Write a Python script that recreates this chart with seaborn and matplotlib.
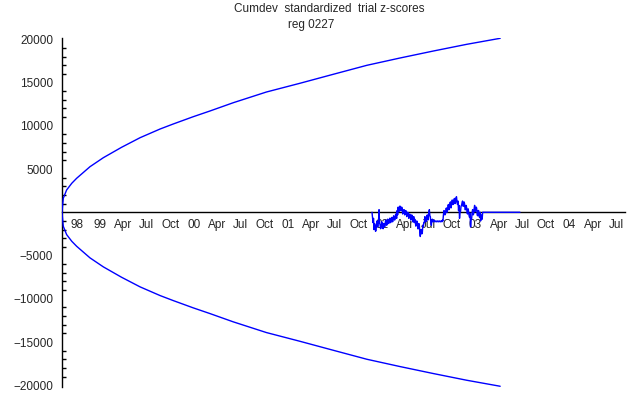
import matplotlib

matplotlib.use("Agg")

import matplotlib.pyplot as plt
import matplotlib.ticker as mticker
import pandas as pd
import seaborn as sns

sns.set_style("white")
plt.rcParams["font.family"] = ["Liberation Sans", "DejaVu Sans"]

# --- datos -----------------------------------------------------------------
start_date = "1998-08-05"
end_date = "2004-08-05"

# envolvente (dias desde start_date, valor superior); la inferior es simetrica
envelope_days = [0, 2, 5, 18, 38, 57, 109, 161, 232, 304, 382, 433, 511, 576,
                 667, 796, 926, 1056, 1187, 1316, 1446, 1576, 1706]
envelope_upper = [0, 700, 1618, 2578, 3352, 3930, 5271, 6312, 7514, 8624, 9630,
                  10207, 11051, 11710, 12670, 13907, 14912, 15953, 16993,
                  17837, 18646, 19421, 20114]

# cumdev de la serie real (dos lecturas por columna de pixel)
walk_start = "2001-11-24"
walk_step = "47h"
walk_values = [
    0, -600, -1200, -700, -2000, -1300, -1500, -2200, -2100, -1400,
    -1000, -1700, -1600, -900, 300, -1300, -1400, -1900, -1800, -1100,
    -1200, -1700, -1900, -1300, -1300, -1700, -1500, -900, -1000, -1500,
    -1400, -800, -900, -1300, -1200, -700, -700, -1200, -1000, -600,
    -600, -1100, -800, -400, -500, -900, -700, -200, -300, -700,
    200, -300, 600, 100, 100, 700, 700, 200, 200, 600,
    400, -200, -100, 300, 300, -300, -200, 200, 100, -500,
    -300, 0, -100, -700, -600, -200, -400, -900, -800, -300,
    -500, -1100, -900, -500, -1200, -800, -1000, -1600, -1500, -1000,
    -1100, -1900, -1900, -1300, -1400, -2300, -2800, -2000, -2000, -2500,
    -2400, -1500, -1600, -1200, -1200, -500, -600, -1100, -1000, -400,
    -300, -900, -800, 0, 300, -400, -500, -1200, -1500, -900,
    -800, -1100, -1000, -900, -1100, -1000, -1000, -1100, -1100, -1000,
    -1000, -1100, -1100, -1000, -1000, -1100, -1100, -1000, -1000, -1100,
    -900, -1000, -300, 200, 100, -300, -200, 400, 500, 0,
    200, 800, 900, 300, 600, 1100, 1200, 500, 800, 1400,
    1400, 900, 1000, 1500, 1600, 1000, 1100, 1700, 1800, 1200,
    900, 1300, 200, 800, -700, 0, 100, 700, 800, 1100,
    1300, 700, 700, 1200, 1000, 300, 300, 800, 600, -100,
    -200, 400, 100, -400, -600, -100, -1700, -800, -800, 0,
    300, -300, -200, 400, 800, 100, 200, 600, 500, -300,
    -400, 200, 200, -500, -600, 0, -1000, -400, -300, -800,
    0,
]
flat_end = "2003-06-23"

tick_labels = ["98", "99", "Apr", "Jul", "Oct", "00", "Apr", "Jul", "Oct",
               "01", "Apr", "Jul", "Oct", "02", "Apr", "Jul", "Oct",
               "03", "Apr", "Jul", "Oct", "04", "Apr", "Jul"]
y_major = [-20000, -15000, -10000, -5000, 5000, 10000, 15000, 20000]

# --- tablas ------------------------------------------------------------------
t0 = pd.Timestamp(start_date)
env = pd.DataFrame({
    "fecha": t0 + pd.to_timedelta(envelope_days, unit="D"),
    "sup": envelope_upper,
})
env["inf"] = -env["sup"]

walk = pd.DataFrame({
    "fecha": pd.date_range(walk_start, periods=len(walk_values), freq=walk_step),
    "z": walk_values,
})
walk = pd.concat([walk, pd.DataFrame({"fecha": [pd.Timestamp(flat_end)], "z": [0]})])

tick_dates = pd.date_range("1998-10-01", periods=len(tick_labels), freq="QS")

# --- figura ------------------------------------------------------------------
fig = plt.figure(figsize=(6.4, 3.95), dpi=100)
ax = fig.add_axes([62 / 640, 1 - 387 / 395, (625 - 62) / 640, (387 - 38) / 395])

azul = "#0000ff"
estilo = dict(color=azul, lw=1.0, estimator=None, sort=False, zorder=3)
sns.lineplot(data=env, x="fecha", y="sup", ax=ax, **estilo)
sns.lineplot(data=env, x="fecha", y="inf", ax=ax, **estilo)
sns.lineplot(data=walk, x="fecha", y="z", ax=ax, **estilo)

ax.set_xlim(t0, pd.Timestamp(end_date))
ax.set_ylim(-20200, 20150)

for lado in ("top", "right"):
    ax.spines[lado].set_visible(False)
ax.spines["bottom"].set_position(("data", 0))
for lado in ("bottom", "left"):
    ax.spines[lado].set_color("black")
    ax.spines[lado].set_linewidth(1.0)

ax.set_xticks(tick_dates)
ax.set_xticklabels(tick_labels)
ax.set_yticks(y_major)
ax.set_yticks([v for v in range(-20000, 20001, 1000) if v % 5000], minor=True)
ax.yaxis.set_major_formatter(mticker.FuncFormatter(
    lambda v, p: f"{int(v)}".replace("-", "\u2212")))

ax.tick_params(axis="x", direction="in", length=4, width=1, labelsize=8.5,
               pad=5, color="black")
ax.tick_params(axis="y", which="major", direction="in", length=5, width=1,
               labelsize=8.5, pad=6.5, color="black")
ax.tick_params(axis="y", which="minor", direction="in", length=3, width=1,
               color="black", left=True)
ax.set_xlabel("")
ax.set_ylabel("")
ax.grid(False)

fig.text(329 / 640, 1 - 9 / 395, "Cumdev  standardized  trial z-scores",
         ha="center", va="center", fontsize=8.5)
fig.text(311 / 640, 1 - 25 / 395, "reg 0227", ha="center", va="center",
         fontsize=8.5)

fig.savefig("out.png", dpi=100)
